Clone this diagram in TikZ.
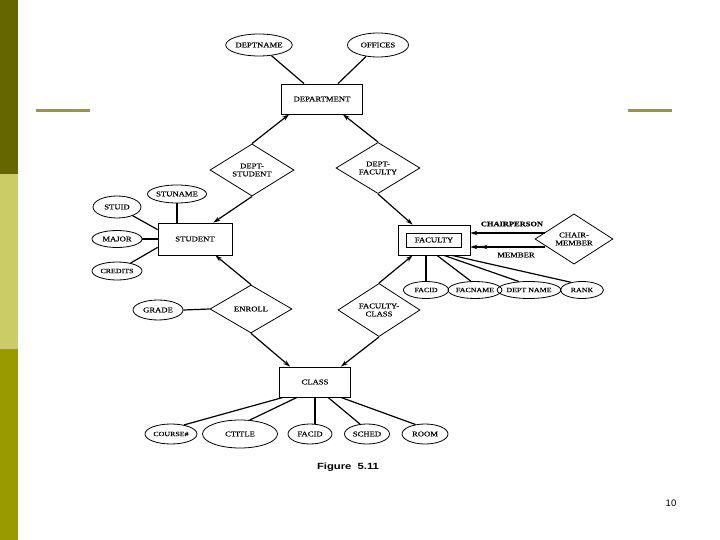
\documentclass[tikz,border=0pt]{standalone}
\usepackage{fontspec}
\setmainfont{Liberation Serif}
\newfontfamily\erfont[FakeStretch=1.2,FakeBold=0.4]{Liberation Serif}
\newfontfamily\figfont[FakeStretch=1.25]{Liberation Sans}
\newfontfamily\pgfont{Liberation Sans}
\usetikzlibrary{shapes.geometric,arrows.meta,calc}
\definecolor{barA}{HTML}{666600}
\definecolor{barB}{HTML}{CCCC66}
\definecolor{barC}{HTML}{999900}
\definecolor{rule}{HTML}{999933}
\tikzset{
  lbl/.style={font=\erfont\fontsize{7.2}{8}\selectfont, align=center, text=black},
  small/.style={font=\erfont\fontsize{6.6}{7.5}\selectfont},
  attr/.style={lbl, ellipse, draw, line width=0.8pt, inner sep=0pt},
  ent/.style={lbl, rectangle, draw, line width=0.8pt, inner sep=0pt},
  rel/.style={lbl, diamond, draw, line width=0.8pt, inner sep=0pt},
  conn/.style={line width=1.2pt},
  arr/.style={conn, -{Stealth[length=7pt,width=4.5pt]}},
  darr/.style={conn, -{Stealth[length=7pt,width=4.5pt,sep=3pt]Stealth[length=7pt,width=4.5pt]}}
}
\begin{document}
\begin{tikzpicture}[x=1pt,y=-1pt]
\useasboundingbox (0,0) rectangle (720,540);
% side bar and rules
\fill[barA] (0,0) rectangle (18,174);
\fill[barB] (0,174) rectangle (18,349);
\fill[barC] (0,349) rectangle (18,540);
\draw[rule, line width=3pt] (36,111) -- (90,111);
\draw[rule, line width=3pt] (628,111) -- (672,111);

% department
\node[attr, minimum width=66pt, minimum height=22pt] (deptname) at (259,45) {DEPTNAME};
\node[attr, minimum width=61pt, minimum height=24pt] (offices) at (378,45) {OFFICES};
\node[ent, minimum width=81pt, minimum height=30pt] (dept) at (322,99) {DEPARTMENT};
\node[rel, minimum width=84pt, minimum height=46pt] (ds) at (252,170) {DEPT-\\STUDENT};
\node[rel, minimum width=84pt, minimum height=48pt] (df) at (378,168) {DEPT-\\FACULTY};

% student
\node[ent, minimum width=74pt, minimum height=32pt] (student) at (195,239) {STUDENT};
\node[attr, minimum width=53pt, minimum height=18pt] (stuname) at (177,194) {STUNAME};
\node[attr, minimum width=48pt, minimum height=22pt] (stuid) at (117,207) {STUID};
\node[attr, minimum width=50pt, minimum height=17pt] (major) at (117,239) {MAJOR};
\node[attr, minimum width=50pt, minimum height=18pt, small] (credits) at (117,271) {CREDITS};

% faculty
\node[ent, minimum width=72pt, minimum height=30pt] (faculty) at (434,240) {};
\node[ent, minimum width=55pt, minimum height=14pt] (facin) at (434,240) {FACULTY};
\node[rel, minimum width=78pt, minimum height=45pt] (cm) at (574,239) {CHAIR-\\MEMBER};
\node[attr, minimum width=45pt, minimum height=17pt, small] (facid) at (426,290) {FACID};
\node[attr, minimum width=46pt, minimum height=17pt, small] (facname) at (475,290) {FACNAME};
\node[attr, minimum width=62pt, minimum height=17pt, small] (fdname) at (529,290) {DEPT NAME};
\node[attr, minimum width=43pt, minimum height=17pt, small] (rank) at (582,290) {RANK};

% enroll / faculty-class
\node[rel, minimum width=82pt, minimum height=48pt] (enroll) at (251,309) {ENROLL};
\node[rel, minimum width=82pt, minimum height=50pt] (fc) at (379,310) {FACULTY-\\CLASS};
\node[attr, minimum width=50pt, minimum height=20pt] (grade) at (158,310) {GRADE};

% class
\node[ent, minimum width=71pt, minimum height=30pt] (class) at (315,382) {CLASS};
\node[attr, minimum width=52pt, minimum height=20pt, small] (course) at (171,434) {COURSE\#};
\node[attr, minimum width=75pt, minimum height=28pt] (ctitle) at (240,434) {CTITLE};
\node[attr, minimum width=44pt, minimum height=20pt] (cfacid) at (310,434) {FACID};
\node[attr, minimum width=45pt, minimum height=20pt] (sched) at (367,434) {SCHED};
\node[attr, minimum width=46pt, minimum height=20pt] (room) at (425,434) {ROOM};

% connectors: department
\draw[conn] (deptname) -- (dept);
\draw[conn] (offices) -- (dept);
\draw[arr] (ds.north) -- ($(dept.south west)+(8,0)$);
\draw[arr] (df.north) -- ($(dept.south east)+(-20,0)$);
\draw[arr] (ds.south) -- ($(student.north east)+(-19,0)$);
\draw[arr] (df.south) -- ($(faculty.north west)+(15,0)$);

% student attributes
\draw[conn] (stuname.south) -- (stuname.south |- student.north);
\draw[conn] (stuid) -- ($(student.north west)+(0,7)$);
\draw[conn] (major.east) -- (student.west);
\draw[conn] (credits) -- ($(student.south west)+(0,-8)$);

% enroll, faculty-class
\draw[arr] (enroll.north) -- ($(student.south east)+(-17,0)$);
\draw[arr] (fc.north) -- ($(faculty.south west)+(15,0)$);
\draw[arr] (enroll.south) -- ($(class.north west)+(11,0)$);
\draw[arr] (fc.south) -- ($(class.north east)+(-10,0)$);
\draw[conn] (grade.east) -- (enroll.west);

% chair-member
\coordinate (cp) at ($(cm.west)+(10,-6)$);
\coordinate (mb) at ($(cm.west)+(10,8)$);
\draw[arr] (cp) -- (cp -| faculty.east);
\draw[darr] (mb) -- (mb -| faculty.east);
\node[font=\erfont\bfseries\fontsize{7}{8}\selectfont, inner sep=0pt] (chairlbl) at (512,224) {CHAIRPERSON};
\node[lbl, inner sep=0pt] (memberlbl) at (516,255) {MEMBER};

% faculty attributes
\draw[conn] (facid.north) -- (facid.north |- faculty.south);
\draw[conn] ($(faculty.south)+(3,0)$) -- (facname.115);
\draw[conn] ($(faculty.south)+(10,0)$) -- (fdname.140);
\draw[conn] ($(faculty.south)+(18,0)$) -- (rank.145);

% class attributes
\draw[conn] ($(class.south west)+(4,0)$) -- (course.35);
\draw[conn] ($(class.south)+(-18,0)$) -- (ctitle.55);
\draw[conn] (cfacid.north -| class.south) -- (class.south);
\draw[conn] ($(class.south)+(13,0)$) -- (sched.125);
\draw[conn] ($(class.south east)+(-10,0)$) -- (room.135);

% captions
\node[font=\figfont\bfseries\fontsize{9}{10}\selectfont, inner sep=0pt] (fig) at (348,467) {Figure\ \ 5.11};
\node[font=\pgfont\fontsize{9.5}{10}\selectfont, inner sep=0pt] (pg) at (671,503) {10};
\end{tikzpicture}
\end{document}
